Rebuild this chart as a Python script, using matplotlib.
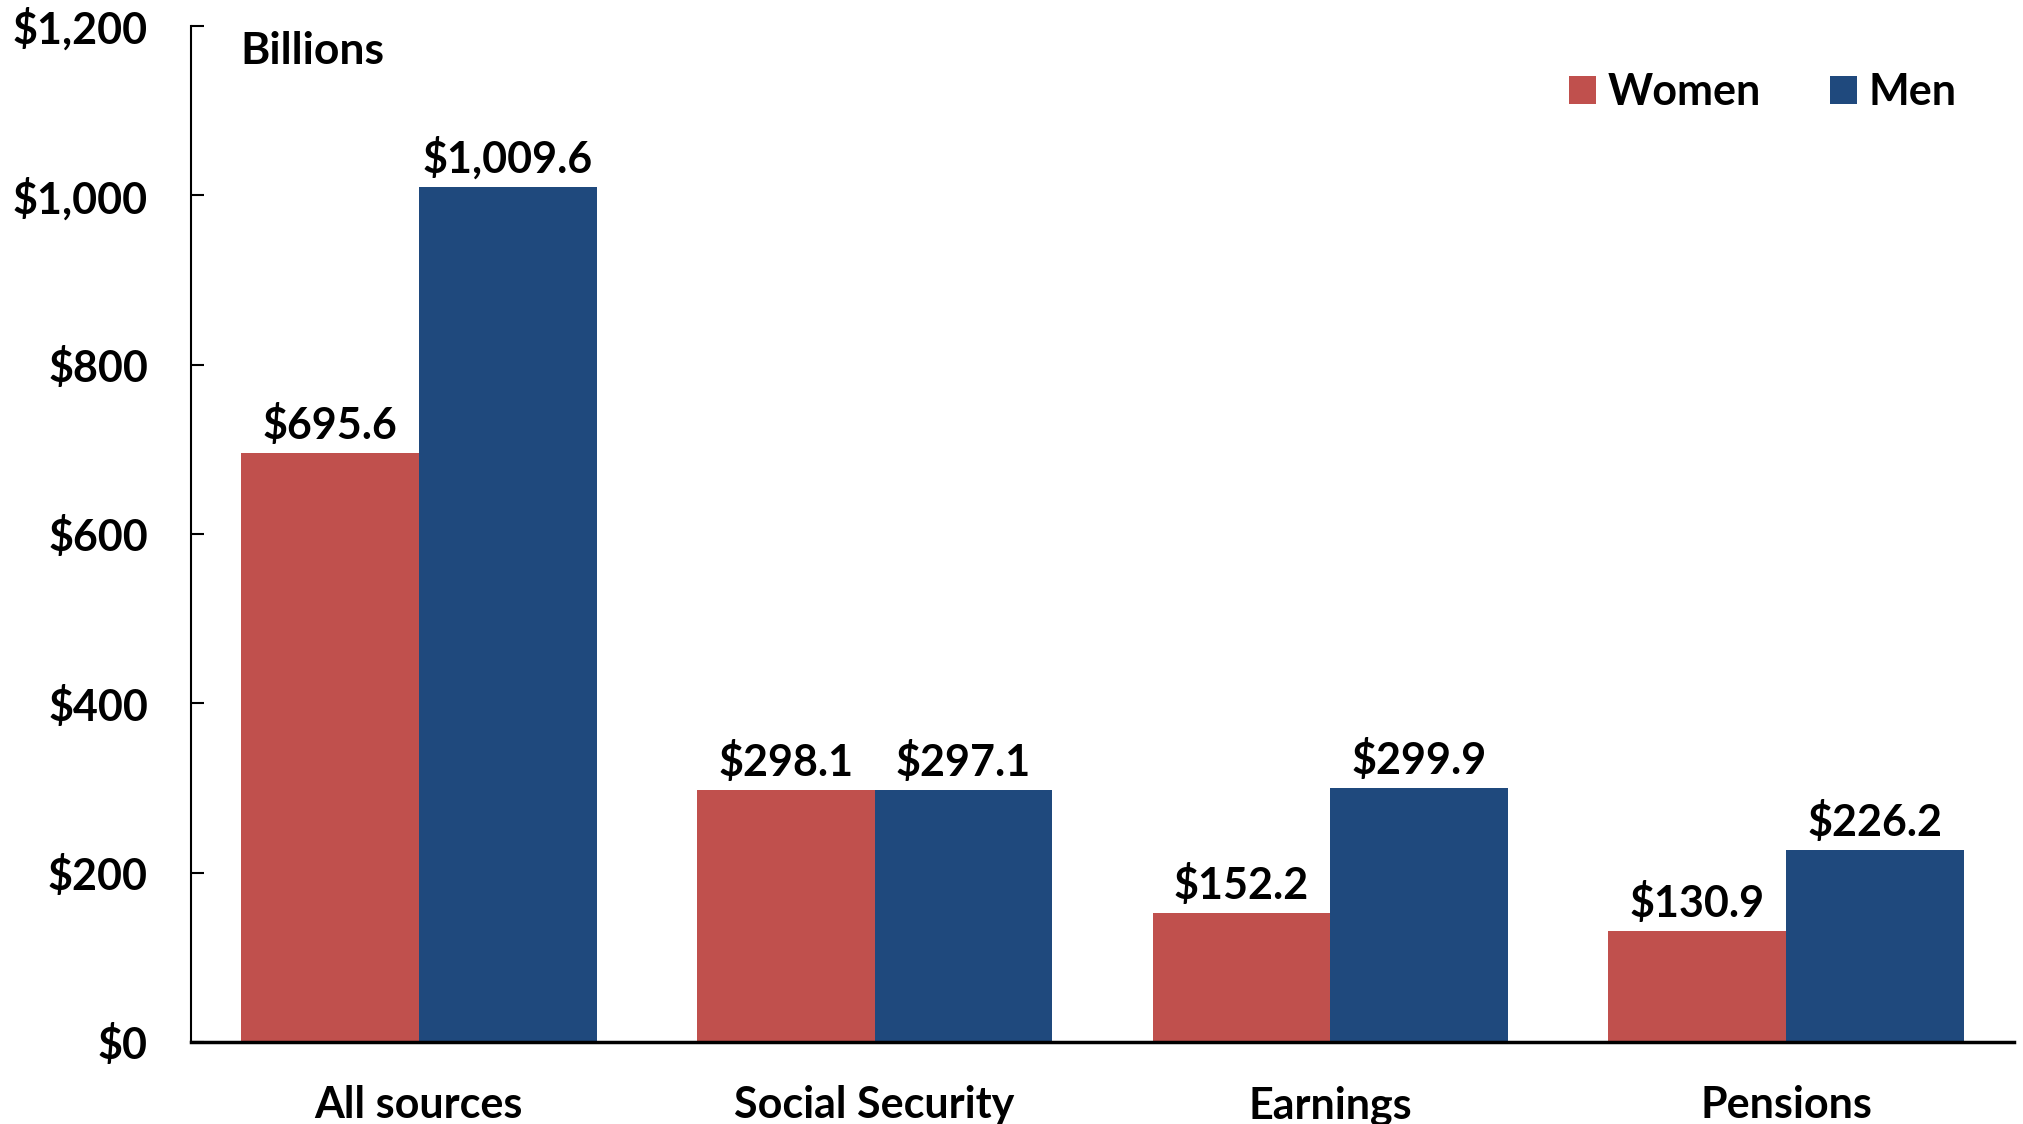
import numpy as np
import matplotlib.pyplot as plt
from matplotlib.ticker import FuncFormatter

plt.rcParams['font.family'] = ['Lato', 'DejaVu Sans']
plt.rcParams['font.weight'] = 'bold'

categories = ["All sources", "Social Security", "Earnings", "Pensions"]
women = [695.6, 298.1, 152.2, 130.9]
men = [1009.6, 297.1, 299.9, 226.2]
yticks = [0, 200, 400, 600, 800, 1000, 1200]

women_color = "#C0504D"
men_color = "#1F497D"

fig = plt.figure(figsize=(20.24, 11.24), dpi=100)
ax = fig.add_axes([0.0944, 0.073, 0.9006, 0.904])

x = np.arange(len(categories))
w = 0.39
b1 = ax.bar(x - w/2, women, w, color=women_color, label="Women")
b2 = ax.bar(x + w/2, men, w, color=men_color, label="Men")

# value labels above bars
for bars in (b1, b2):
    ax.bar_label(bars, fmt="${:,.1f}", padding=5, fontsize=31, fontweight='bold')

ax.set_xlim(-0.5, 3.5)
ax.set_ylim(0, 1200)
ax.set_yticks(yticks)
ax.yaxis.set_major_formatter(FuncFormatter(lambda v, p: "${:,.0f}".format(v)))
ax.set_xticks(x)
ax.set_xticklabels(categories)

ax.tick_params(axis='y', direction='in', length=9, width=1.5, labelsize=31, pad=31)
ax.tick_params(axis='x', length=0, labelsize=31, pad=31)

for s in ("top", "right"):
    ax.spines[s].set_visible(False)
ax.spines["left"].set_linewidth(1.5)
ax.spines["bottom"].set_linewidth(2.5)

ax.text(0.027, 0.975, "Billions", transform=ax.transAxes, fontsize=32,
        fontweight='bold', va='center', ha='left')

ax.legend(loc='upper right', bbox_to_anchor=(0.99, 0.993), ncol=2, frameon=False,
          fontsize=31, handlelength=0.62, handleheight=0.62, handletextpad=0.28,
          columnspacing=1.6)

fig.savefig("out.png", dpi=100)
